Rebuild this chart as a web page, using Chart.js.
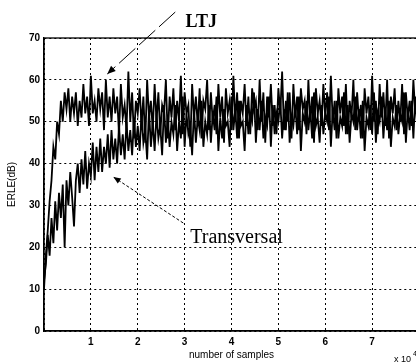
<!DOCTYPE html>
<html>
<head>
<meta charset="utf-8">
<script src="https://cdn.jsdelivr.net/npm/chart.js@4.4.0/dist/chart.umd.min.js"></script>
<style>
html, body { margin: 0; padding: 0; background: #fff; overflow: hidden; }
#wrap { position: relative; width: 440px; height: 363px; }
</style>
</head>
<body>
<div id="wrap"><canvas id="erleChart"></canvas></div>
<script>
// spacing between points, in units of 10^4 samples
const sampleStep = 0.04;

// ERLE (dB), one value per sampleStep
const ltj = [
    10, 18, 24, 31, 36, 44, 41, 50, 47, 55,
    50, 57, 53, 58, 50, 56, 52, 57, 49, 55,
    51, 59, 52, 56, 49, 61, 52, 55, 50, 58,
    53, 57, 48, 60, 51, 56, 50, 58, 52, 56,
    47, 59, 51, 54, 48, 62, 50, 57, 46, 55,
    52, 58, 49, 56, 45, 60, 51, 55, 48, 59,
    50, 57, 47, 54, 52, 60, 46, 56, 51, 58,
    48, 55, 50, 61, 47, 57, 52, 54, 44, 59,
    51, 56, 49, 58, 46, 55, 53, 60, 48, 57,
    50, 54, 47, 59, 51, 56, 45, 58, 52, 55,
    48, 61, 50, 57, 46, 55, 52, 59, 49, 56,
    47, 58, 53, 55, 48, 60, 50, 57, 45, 56,
    51, 59, 49, 54, 47, 58, 52, 62, 48, 55,
    50, 57, 46, 59, 51, 56, 48, 58, 53, 55,
    47, 60, 50, 56, 45, 58, 52, 55, 49, 59,
    51, 57, 48, 61, 50, 55, 46, 58, 52, 56,
    49, 59, 47, 55, 51, 60, 48, 57, 50, 54,
    46, 58, 52, 56, 48, 61, 50, 55, 47, 59,
    51, 57, 49, 60, 46, 56, 52, 58, 48, 55,
    50, 59, 47, 57, 51, 55, 49, 60, 52, 56,
    48
];

const transversal = [
    12, 16, 23, 18, 27, 21, 31, 24, 33, 27,
    35, 20, 36, 30, 38, 32, 25, 36, 40, 33,
    41, 35, 43, 34, 40, 37, 45, 36, 44, 38,
    46, 38, 44, 40, 47, 39, 48, 41, 46, 40,
    49, 42, 47, 41, 50, 43, 48, 42, 51, 44,
    49, 43, 52, 45, 48, 41, 53, 44, 50, 43,
    52, 46, 49, 42, 54, 45, 51, 44, 50, 47,
    54, 43, 50, 46, 56, 44, 52, 47, 49, 42,
    53, 45, 51, 48, 55, 44, 50, 47, 54, 45,
    52, 48, 56, 43, 51, 46, 53, 49, 50, 44,
    56, 48, 53, 46, 55, 49, 50, 43, 54, 47,
    52, 50, 57, 45, 53, 48, 55, 46, 51, 49,
    56, 44, 54, 47, 52, 50, 55, 46, 53, 48,
    57, 45, 51, 49, 54, 47, 56, 43, 52, 50,
    55, 48, 53, 46, 57, 49, 51, 45, 54, 47,
    52, 50, 56, 44, 53, 48, 55, 46, 51, 49,
    57, 47, 54, 45, 52, 50, 56, 48, 53, 46,
    55, 43, 51, 49, 54, 47, 57, 45, 52, 50,
    56, 46, 53, 48, 55, 44, 51, 49, 54, 47,
    52, 50, 57, 45, 53, 48, 55, 46, 56, 49,
    51
];

const xRange = [0, 8];
const yRange = [0, 70];

const toPoints = vals => vals.map((v, i) => ({ x: +(i * sampleStep).toFixed(2), y: v }));

const tickFont = { family: "'Liberation Sans', Arial, sans-serif", size: 10, weight: 'bold' };

function arrow(ctx, x1, y1, x2, y2, dash, head) {
    ctx.setLineDash(dash);
    ctx.beginPath();
    ctx.moveTo(x1, y1);
    ctx.lineTo(x2, y2);
    ctx.stroke();
    ctx.setLineDash([]);
    const ang = Math.atan2(y2 - y1, x2 - x1);
    ctx.beginPath();
    ctx.moveTo(x2, y2);
    ctx.lineTo(x2 - head * Math.cos(ang - 0.4), y2 - head * Math.sin(ang - 0.4));
    ctx.lineTo(x2 - head * Math.cos(ang + 0.4), y2 - head * Math.sin(ang + 0.4));
    ctx.closePath();
    ctx.fill();
}

const decorations = {
    id: 'decorations',
    afterDraw(chart) {
        const { ctx, chartArea: a, scales: { x, y } } = chart;
        ctx.save();
        ctx.strokeStyle = '#000';
        ctx.fillStyle = '#000';

        // solid box round the axes
        ctx.lineWidth = 1.3;
        ctx.strokeRect(a.left, a.top, a.right - a.left, a.bottom - a.top);

        // curve labels
        ctx.lineWidth = 1;
        arrow(ctx, x.getPixelForValue(2.8), y.getPixelForValue(76.2),
            x.getPixelForValue(1.35), y.getPixelForValue(61.4), [22, 5], 9);
        arrow(ctx, x.getPixelForValue(2.97), y.getPixelForValue(25.8),
            x.getPixelForValue(1.48), y.getPixelForValue(36.8), [3, 2], 8);

        ctx.textAlign = 'left';
        ctx.textBaseline = 'alphabetic';
        ctx.font = "bold 18px 'Liberation Serif', 'Times New Roman', serif";
        ctx.fillText('LTJ', x.getPixelForValue(3.02), y.getPixelForValue(72.6));
        ctx.font = "20px 'Liberation Serif', 'Times New Roman', serif";
        ctx.fillText('Transversal', x.getPixelForValue(3.12), y.getPixelForValue(21.0));

        // axis titles
        ctx.font = "10px 'Liberation Sans', Arial, sans-serif";
        ctx.textAlign = 'center';
        ctx.fillText('number of samples', (a.left + a.right) / 2, 358);

        ctx.save();
        ctx.translate(12, (a.top + a.bottom) / 2);
        ctx.rotate(-Math.PI / 2);
        ctx.textBaseline = 'middle';
        ctx.font = "10px 'Liberation Sans', Arial, sans-serif";
        ctx.fillText('ERLE(dB)', 0, 0);
        ctx.restore();

        ctx.textAlign = 'left';
        ctx.font = "9px 'Liberation Sans', Arial, sans-serif";
        ctx.fillText('x 10', 394, 362);
        ctx.font = "7px 'Liberation Sans', Arial, sans-serif";
        ctx.fillText('4', 413, 356);
        ctx.restore();
    }
};

const ctx = document.getElementById('erleChart').getContext('2d');
const erleChart = new Chart(ctx, {
    type: 'line',
    data: {
        datasets: [
            {
                label: 'Transversal',
                data: toPoints(transversal),
                borderColor: '#000',
                borderWidth: 1.8,
                pointRadius: 0,
                tension: 0
            },
            {
                label: 'LTJ',
                data: toPoints(ltj),
                borderColor: '#000',
                borderWidth: 1.8,
                pointRadius: 0,
                tension: 0
            }
        ]
    },
    options: {
        responsive: true,
        maintainAspectRatio: false,
        animation: false,
        layout: { padding: { top: 38, right: 21, left: 0, bottom: 0 } },
        plugins: {
            legend: { display: false },
            tooltip: { enabled: false }
        },
        scales: {
            x: {
                type: 'linear',
                min: xRange[0],
                max: xRange[1],
                afterFit: scale => { scale.height = 32; },
                ticks: {
                    stepSize: 1,
                    color: '#000',
                    font: tickFont,
                    padding: 5,
                    maxRotation: 0,
                    callback: v => (v === 0 ? '' : v)
                },
                grid: { color: '#000', lineWidth: 1, drawTicks: false },
                border: { color: '#000', width: 1.3, dash: [2, 3] }
            },
            y: {
                min: yRange[0],
                max: yRange[1],
                afterFit: scale => { scale.width = 44; },
                ticks: {
                    stepSize: 10,
                    color: '#000',
                    font: tickFont,
                    padding: 4
                },
                grid: { color: '#000', lineWidth: 1, drawTicks: false },
                border: { color: '#000', width: 1.3, dash: [2, 3] }
            }
        }
    },
    plugins: [decorations]
});
</script>
</body>
</html>
